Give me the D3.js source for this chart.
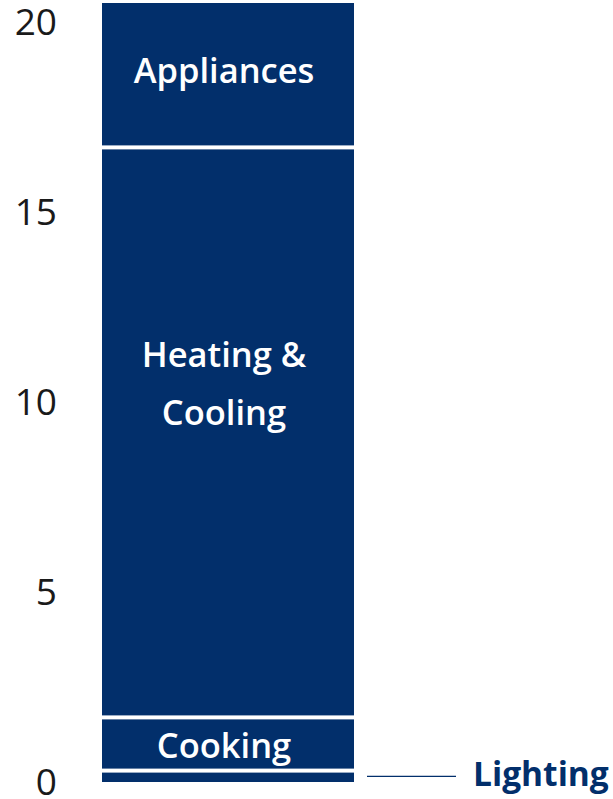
<!DOCTYPE html>
<html>
<head>
  <meta charset="utf-8">
  <script src="https://d3js.org/d3.v7.min.js"></script>
  <style>
    body { margin: 0; background: #fff; }
    svg { display: block; font-family: "Open Sans", sans-serif; }
    .domain { display: none; }
    .tick text { fill: #1a1a1a; font-size: 37px; font-family: "Open Sans", sans-serif; }
  </style>
</head>
<body>
  <svg width="613" height="799"></svg>
  <script>
    // data (bottom to top)
    const categories = ['Lighting', 'Cooking', 'Heating & Cooling', 'Appliances'];
    const values = [0.3, 1.4, 15.0, 3.8];
    const tickValues = [0, 5, 10, 15, 20];

    const navy = '#022f6b';
    const gap = 4;

    const svg = d3.select('svg');

    const y = d3.scaleLinear().domain([0, 20]).range([782, 22]);
    const x = d3.scaleBand().domain(['Home']).range([102, 354]).padding(0);

    // stack values
    let cum = 0;
    const segs = categories.map((c, i) => {
      const s = { name: c, y0: cum, y1: cum + values[i] };
      cum += values[i];
      return s;
    });

    // bars, white gap between segments
    svg.append('g').selectAll('rect').data(segs)
      .enter().append('rect')
      .attr('x', x('Home'))
      .attr('width', x.bandwidth())
      .attr('y', (d, i) => y(d.y1) + (i === segs.length - 1 ? 0 : gap / 2))
      .attr('height', (d, i) => {
        const top = y(d.y1) + (i === segs.length - 1 ? 0 : gap / 2);
        const bot = y(d.y0) - (i === 0 ? 0 : gap / 2);
        return bot - top;
      })
      .attr('fill', navy);

    // axis
    const axisG = svg.append('g')
      .attr('transform', 'translate(57,0)')
      .call(d3.axisLeft(y).tickValues(tickValues).tickSize(0).tickPadding(0));
    axisG.attr('font-family', null).attr('font-size', null);
    axisG.selectAll('text').attr('dy', '0.34em');

    // labels inside bar (lines + nudge)
    const inner = [
      { name: 'Appliances', lines: ['Appliances'], dy: -5 },
      { name: 'Heating & Cooling', lines: ['Heating &', 'Cooling'], dy: -49 },
      { name: 'Cooking', lines: ['Cooking'], dy: 2 }
    ];
    const lineH = 58;
    inner.forEach(l => {
      const s = segs.find(d => d.name === l.name);
      const cy = y((s.y0 + s.y1) / 2) + l.dy;
      const t = svg.append('text')
        .attr('text-anchor', 'middle')
        .attr('fill', '#fff')
        .style('font-size', '34.5px')
        .style('font-weight', 600);
      l.lines.forEach((ln, j) => {
        t.append('tspan')
          .attr('x', x('Home') + x.bandwidth() / 2 - 4)
          .attr('y', cy + (j - (l.lines.length - 1) / 2) * lineH)
          .attr('dy', '0.36em')
          .text(ln);
      });
    });

    // lighting callout
    const light = segs[0];
    const ly = y((light.y0 + light.y1) / 2);
    svg.append('line')
      .attr('x1', 367).attr('x2', 456)
      .attr('y1', ly).attr('y2', ly)
      .attr('stroke', navy)
      .attr('stroke-width', 1.3);
    svg.append('text')
      .attr('x', 473)
      .attr('y', ly - 2)
      .attr('dy', '0.36em')
      .attr('fill', navy)
      .style('font-size', '33.5px')
      .style('font-weight', 700)
      .text('Lighting');
  </script>
</body>
</html>
